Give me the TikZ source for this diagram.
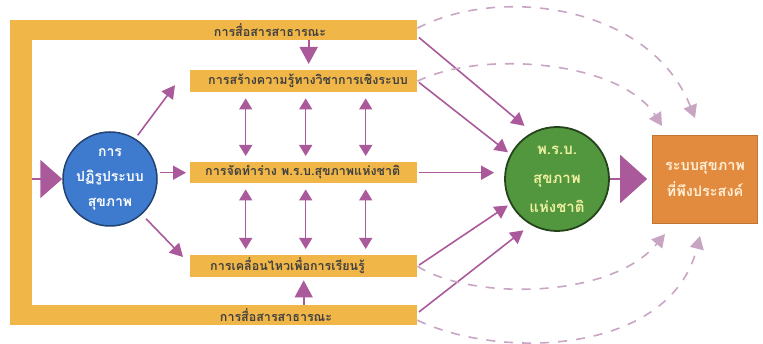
\documentclass[tikz,border=0pt]{standalone}
\usepackage{fontspec}
\newfontfamily\thai[Script=Thai]{Loma}
\usetikzlibrary{arrows.meta,calc}
\definecolor{barc}{RGB}{240,182,72}
\definecolor{arr}{RGB}{170,90,155}
\definecolor{dsh}{RGB}{200,165,195}
\definecolor{bluec}{RGB}{62,122,205}
\definecolor{greenc}{RGB}{82,150,62}
\definecolor{boxc}{RGB}{226,138,62}
\definecolor{gtext}{RGB}{238,240,160}
\definecolor{btext}{RGB}{255,240,215}
\begin{document}
\begin{tikzpicture}[x=1pt,y=-1pt,
  bar/.style={fill=barc, draw=none, inner sep=0pt, anchor=north west},
  bartext/.style={font=\thai\bfseries\fontsize{12.5}{14}\selectfont, text=black!75, inner sep=0pt},
  arrm/.style={draw=arr, line width=1.6pt, -{Triangle[length=13pt,width=14pt]}},
  arrd/.style={draw=arr, line width=1.4pt, {Triangle[length=11pt,width=13pt]}-{Triangle[length=11pt,width=13pt]}},
  arrbig/.style={draw=arr, line width=1.6pt, -{Triangle[length=17pt,width=18pt]}},
  arrhuge/.style={draw=arr, line width=2pt, -{Triangle[length=22pt,width=38pt]}},
  dashc/.style={draw=dsh, line width=1.6pt, dash pattern=on 9pt off 9pt, -{Triangle[length=13pt,width=14pt]}},
  circtext/.style={font=\thai\bfseries\fontsize{14}{25}\selectfont, align=center}
]
\useasboundingbox (0,0) rectangle (763,344);

% frame
\node[bar, minimum width=407pt, minimum height=20pt] (topbar) at (10,20) {};
\node[bar, minimum width=22pt, minimum height=305pt] (leftbar) at (10,20) {};
\node[bar, minimum width=407pt, minimum height=20pt] (botbar) at (10,305) {};
\node[bartext] (toptext) at (270,30) {การสื่อสารสาธารณะ};
\node[bartext] (bottext) at (276,315) {การสื่อสารสาธารณะ};

% inner bars
\node[bar, minimum width=227pt, minimum height=22pt] (bar2) at (190,70) {};
\node[bar, minimum width=227pt, minimum height=21pt] (bar3) at (190,162) {};
\node[bar, minimum width=227pt, minimum height=22pt] (bar4) at (190,255) {};
\node[bartext, anchor=west] (t2) at (208,81) {การสร้างความรู้ทางวิชาการเชิงระบบ};
\node[bartext, anchor=west] (t3) at (205,172.5) {การจัดทำร่าง พ.ร.บ.สุขภาพแห่งชาติ};
\node[bartext, anchor=west] (t4) at (210,266) {การเคลื่อนไหวเพื่อการเรียนรู้};

% circles and box
\node[circle, fill=bluec, draw=bluec!55!black, line width=1.5pt, minimum size=94pt, inner sep=0pt,
      circtext, text=white] (reform) at (110,179) {การ\\ปฏิรูประบบ\\สุขภาพ};
\node[circle, fill=greenc, draw=greenc!45!black, line width=1.8pt, minimum size=104pt, inner sep=0pt,
      circtext, text=gtext, font=\thai\bfseries\fontsize{15}{29}\selectfont] (act) at (557,179) {พ.ร.บ.\\สุขภาพ\\แห่งชาติ};
\node[rectangle, fill=boxc, draw=boxc!85!black, line width=0.6pt, minimum width=105pt, minimum height=88pt,
      circtext, text=btext, font=\thai\bfseries\fontsize{14.5}{26}\selectfont] (goal) at (705,179) {ระบบสุขภาพ\\ที่พึงประสงค์};

% left arrows
\draw[arrhuge] (leftbar.east |- reform) -- (reform.west);
\draw[arrm, shorten <=2pt, shorten >=4pt] (reform.east |- bar3.west) -- (bar3.west);
\draw[arrm, shorten <=4pt] (reform.58) -- ([xshift=-15pt, yshift=-4pt]bar2.west);
\draw[arrm, shorten <=6pt] (reform.-48) -- ([xshift=-7pt, yshift=-2pt]bar4.north west);

% vertical arrows
\draw[arrbig, shorten >=6pt] ([xshift=5pt]bar2.north |- topbar.south) -- ([xshift=5pt]bar2.north);
\draw[arrbig, shorten >=3pt] (bar4.south |- botbar.north) -- (bar4.south);
\foreach \dx in {-58,2,62}{
  \draw[arrd, shorten <=6pt, shorten >=6pt] ([xshift=\dx pt]bar2.south) -- ([xshift=\dx pt]bar3.north);
  \draw[arrd, shorten <=6pt, shorten >=6pt] ([xshift=\dx pt]bar3.south) -- ([xshift=\dx pt]bar4.north);
}

% arrows into act
\draw[arrm, shorten <=2pt, shorten >=10pt] ([yshift=-6pt]topbar.east) -- (act.118);
\draw[arrm, shorten <=2pt, shorten >=3pt] (bar2.east) -- (act.152);
\draw[arrm, shorten <=2pt, shorten >=10pt] (bar3.east) -- (bar3.east -| act.west);
\draw[arrm, shorten <=2pt, shorten >=3pt] (bar4.east) -- (act.208);
\draw[arrm, shorten <=2pt, shorten >=9pt] ([yshift=2pt]botbar.east) -- (act.240);

% big arrow to goal
\draw[draw=arr, line width=2pt, -{Triangle[length=27pt,width=48pt]}, shorten >=5pt] (act.east) -- (goal.west);

% dashed curves
\coordinate (d1) at (695,118);
\coordinate (d2) at (662,126);
\coordinate (d3) at (665,234);
\coordinate (d4) at (700,236);
\draw[dashc] ([yshift=2pt]topbar.east) .. controls (500,-15) and (650,5) .. (d1);
\draw[dashc] (bar2.east) .. controls (480,50) and (620,60) .. (d2);
\draw[dashc] (bar4.east) .. controls (470,300) and (610,300) .. (d3);
\draw[dashc] ([yshift=-5pt]botbar.east) .. controls (500,360) and (670,355) .. (d4);
\end{tikzpicture}
\end{document}
